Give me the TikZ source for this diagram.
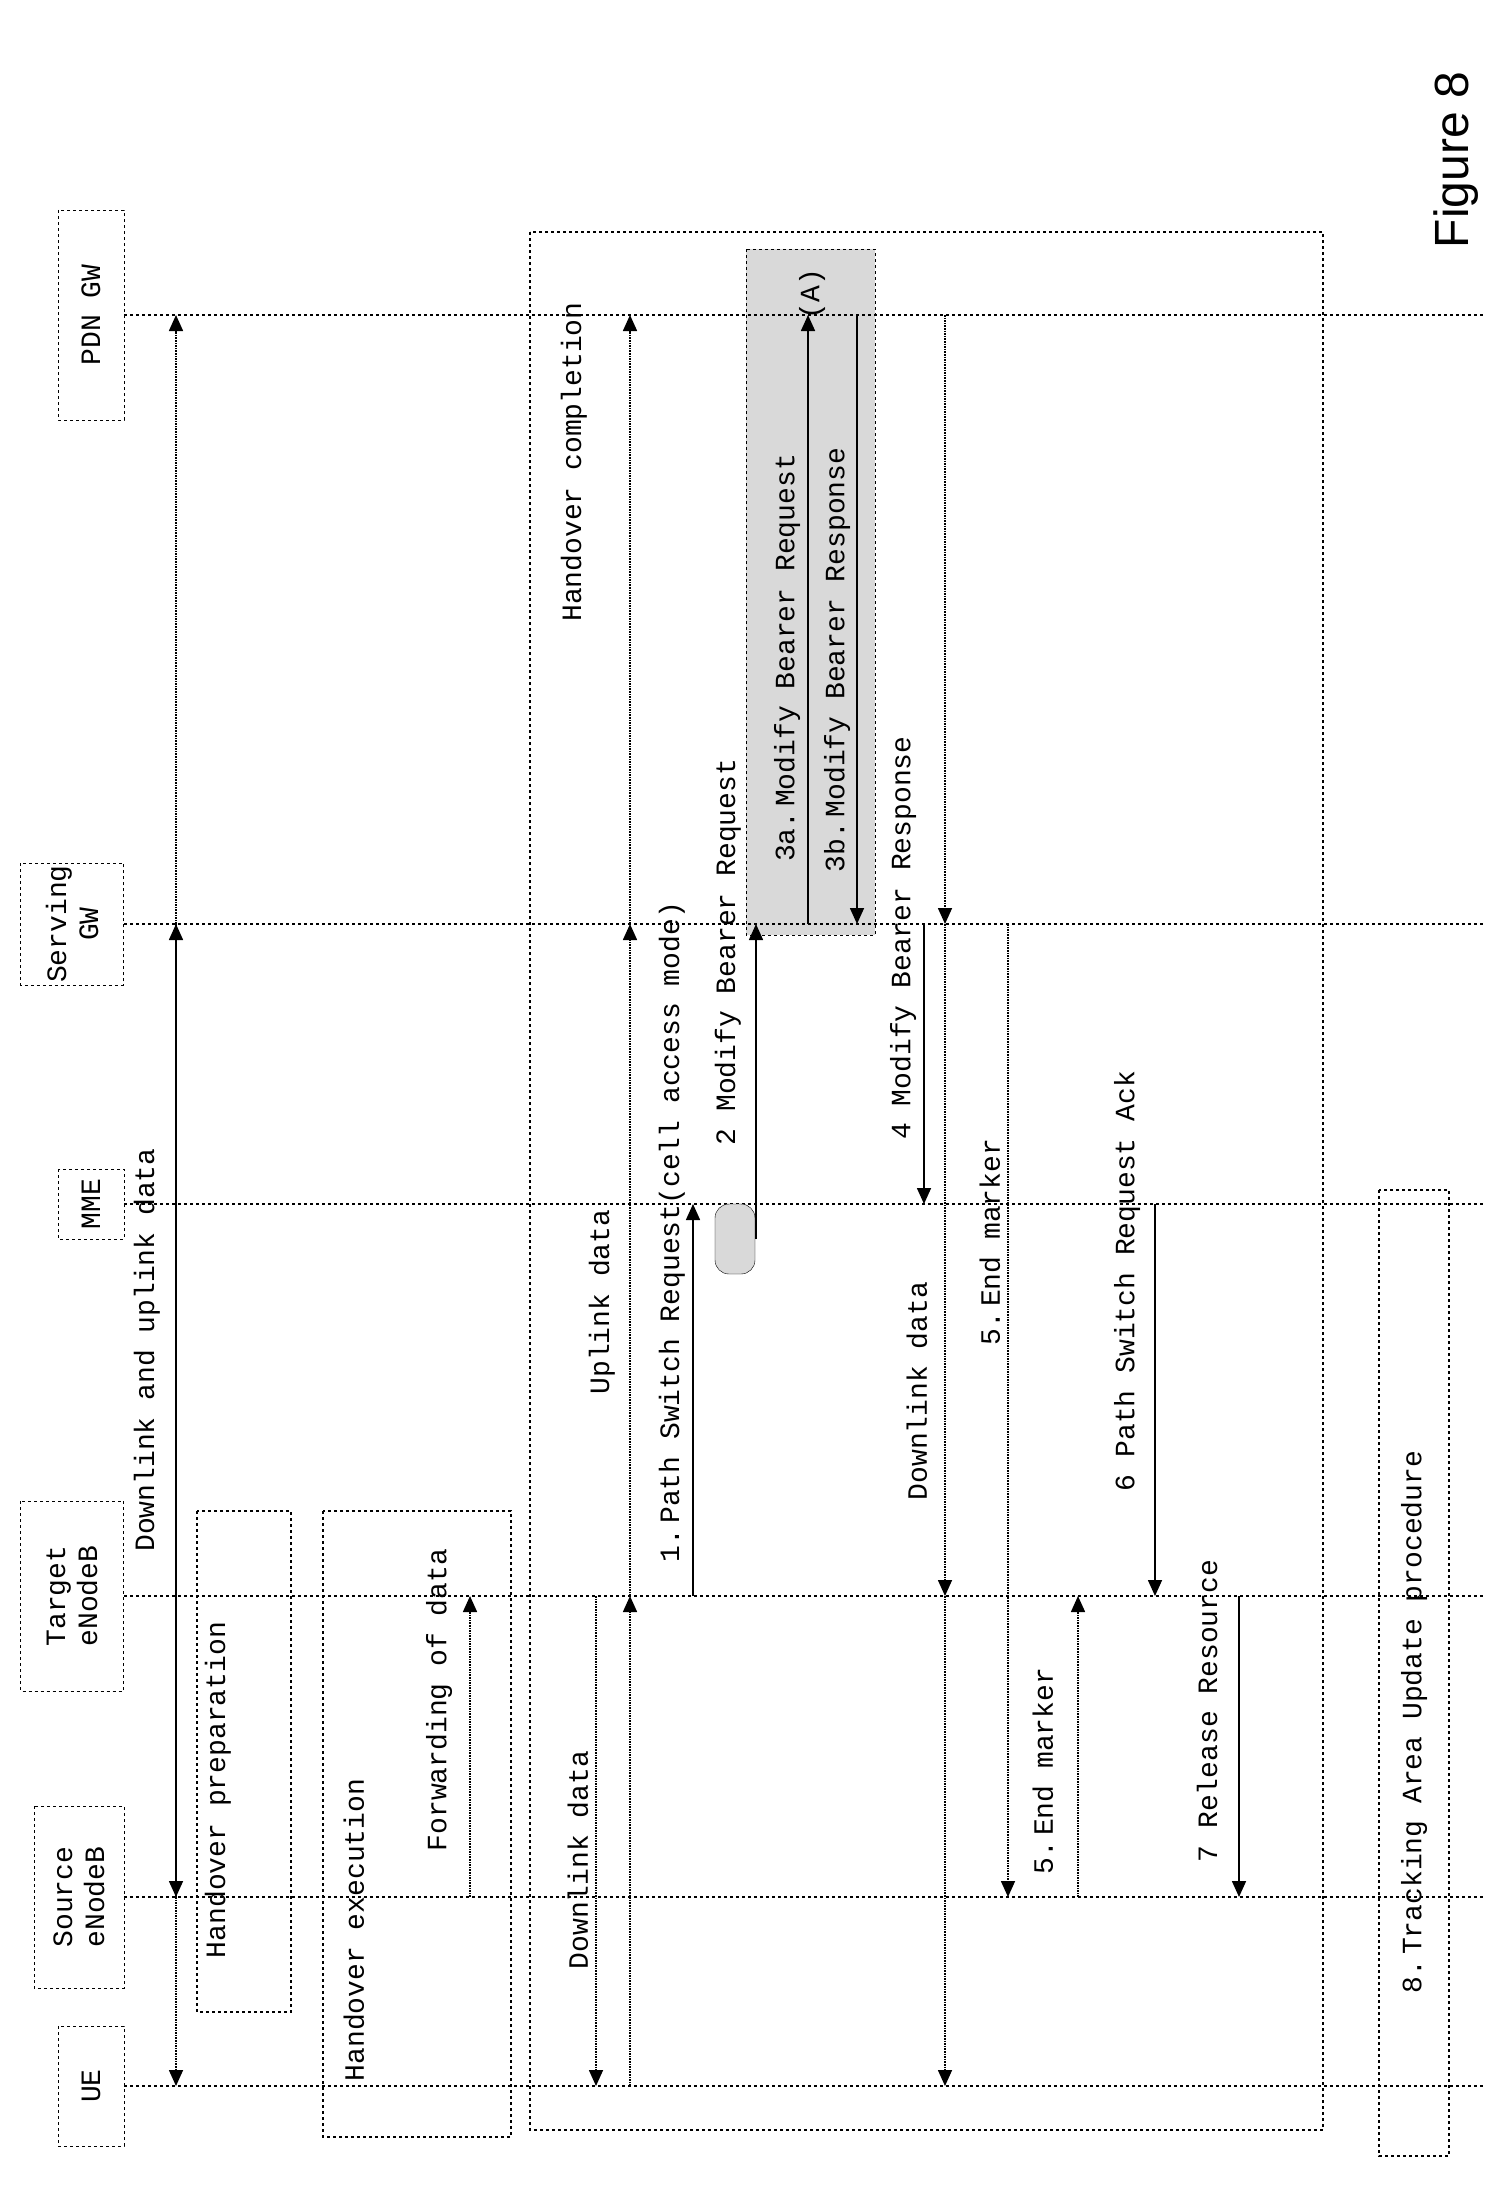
\documentclass[tikz,border=0pt]{standalone}
\usepackage{fontspec}
\setmainfont{Liberation Mono}
\newfontfamily\figfont{Liberation Sans}
\usetikzlibrary{arrows.meta, positioning}

\tikzset{
  head/.style={draw, dashed, rotate=90, align=center, inner sep=2pt},
  life/.style={dashed, line width=1.2pt},
  data/.style={densely dotted, line width=1.6pt},
  msg/.style={line width=1.6pt},
  tip/.style={-{Triangle[length=16pt,width=14pt]}},
  box/.style={draw, dashed, line width=1.2pt},
  lbl/.style={rotate=90, inner sep=0pt}
}

\begin{document}
\begin{tikzpicture}[x=1pt, y=-1pt, font=\fontsize{28}{32}\selectfont]
  \useasboundingbox (0,0) rectangle (1511,2186);

  % entidades
  \node[head, minimum width=120, minimum height=66] (ue) at (91,2086) {UE};
  \node[head, minimum width=182, minimum height=90] (src) at (79,1897) {Source\\eNodeB};
  \node[head, minimum width=190, minimum height=103] (tgt) at (72,1596) {Target\\eNodeB};
  \node[head, minimum width=70, minimum height=66] (mme) at (91,1204) {MME};
  \node[head, minimum width=110, minimum height=103] (sgw) at (72,924) {Serving\\GW};
  \node[head, minimum width=210, minimum height=66] (pdn) at (91,315) {PDN GW};

  % caixas
  \draw[box] (197,1511) rectangle (291,2012);
  \draw[box] (323,1511) rectangle (511,2137);
  \draw[box] (530,232) rectangle (1323,2130);
  \draw[box] (1379,1190) rectangle (1449,2156);
  \draw[dashed, fill=gray!30] (746,249) rectangle (875,935);

  % linhas de vida
  \foreach \e in {ue, src, tgt, mme, sgw, pdn}
    \draw[life] (124,0 |- \e) -- (1484,0 |- \e);

  % dados
  \draw[data, tip] (176,0 |- src) -- (176,0 |- ue);
  \draw[data, tip] (176,0 |- sgw) -- (176,0 |- src);
  \draw[data, tip] (176,0 |- src) -- (176,0 |- sgw);
  \draw[data, tip] (176,0 |- sgw) -- (176,0 |- pdn);
  \draw[data, tip] (470,0 |- src) -- (470,0 |- tgt);
  \draw[data, tip] (596,0 |- tgt) -- (596,0 |- ue);
  \draw[data, tip] (630,0 |- ue) -- (630,0 |- tgt);
  \draw[data, tip] (630,0 |- tgt) -- (630,0 |- sgw);
  \draw[data, tip] (630,0 |- sgw) -- (630,0 |- pdn);
  \draw[data, tip] (945,0 |- pdn) -- (945,0 |- sgw);
  \draw[data, tip] (945,0 |- sgw) -- (945,0 |- tgt);
  \draw[data, tip] (945,0 |- tgt) -- (945,0 |- ue);
  \draw[data, tip] (1008,0 |- sgw) -- (1008,0 |- src);
  \draw[data, tip] (1078,0 |- src) -- (1078,0 |- tgt);

  % mensagens
  \node[draw, fill=gray!30, rounded corners=14, minimum width=40, minimum height=70] (ov) at (735,1239) {};
  \draw[msg, tip] (693,0 |- tgt) -- (693,0 |- mme);
  \draw[msg, tip] (756,0 |- ov) -- (756,0 |- sgw);
  \draw[msg, tip] (808,0 |- sgw) -- (808,0 |- pdn);
  \draw[msg, tip] (857,0 |- pdn) -- (857,0 |- sgw);
  \draw[msg, tip] (924,0 |- sgw) -- (924,0 |- mme);
  \draw[msg, tip] (1155,0 |- mme) -- (1155,0 |- tgt);
  \draw[msg, tip] (1239,0 |- tgt) -- (1239,0 |- src);

  % textos
  \node[lbl] (t0) at (147,1350) {Downlink and uplink data};
  \node[lbl] (t1) at (218,1790) {Handover preparation};
  \node[lbl] (t2) at (354,1930) {Handover execution};
  \node[lbl] (t3) at (439,1700) {Forwarding of data};
  \node[lbl] (t4) at (578,1860) {Downlink data};
  \node[lbl] (t5) at (574,462) {Handover completion};
  \node[lbl] (t6) at (602,1302) {Uplink data};
  \node[lbl] (t7) at (672,1232) {1.\,Path Switch Request(cell access mode)};
  \node[lbl] (t8) at (728,952) {2 Modify Bearer Request};
  \node[lbl] (t9) at (787,658) {3a.\,Modify Bearer Request};
  \node[lbl] (t10) at (837,660) {3b.\,Modify Bearer Response};
  \node[lbl] (t11) at (812,294) {(A)};
  \node[lbl] (t12) at (903,938) {4 Modify Bearer Response};
  \node[lbl] (t13) at (917,1391) {Downlink data};
  \node[lbl] (t14) at (990,1242) {5.\,End marker};
  \node[lbl] (t15) at (1043,1771) {5.\,End marker};
  \node[lbl] (t16) at (1127,1281) {6 Path Switch Request Ack};
  \node[lbl] (t17) at (1207,1711) {7 Release Resource};
  \node[lbl] (t18) at (1414,1722) {8.\,Tracking Area Update procedure};
  \node[lbl, font=\figfont\fontsize{48}{52}\selectfont] (fig) at (1456,160) {Figure 8};
\end{tikzpicture}
\end{document}
